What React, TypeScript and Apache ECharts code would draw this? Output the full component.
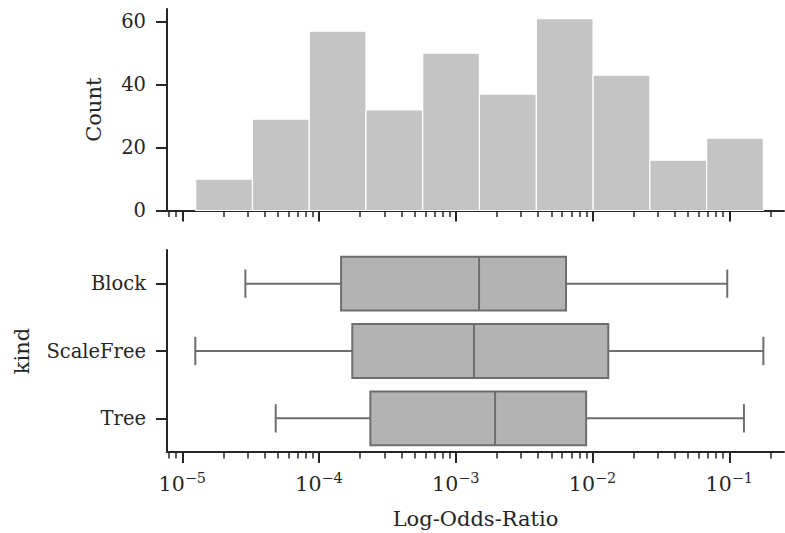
import React, { useEffect, useRef } from "react";
import * as echarts from "echarts";

// Histogram of log10(odds ratio): bin edges (log10 scale) and counts
const binEdges = [-4.902, -4.487, -4.072, -3.657, -3.242, -2.827, -2.411, -1.996, -1.581, -1.166, -0.751];
const binCounts = [10, 29, 57, 32, 50, 37, 61, 43, 16, 23];

// Box plot summary per graph kind (log10 values)
const kinds = ["Block", "ScaleFree", "Tree"];
const whiskerLow = [-4.539, -4.905, -4.317];
const quartile1 = [-3.839, -3.757, -3.625];
const medians = [-2.83, -2.867, -2.713];
const quartile3 = [-2.194, -1.885, -2.047];
const whiskerHigh = [-1.015, -0.751, -0.893];

// Axis ticks
const countTicks = [0, 20, 40, 60];
const majorExponents = [-5, -4, -3, -2, -1];

const X_MIN = -5.112;
const X_MAX = -0.6;

const minorTicks: number[] = [];
for (let e = -6; e <= -1; e++) {
  for (let m = 2; m <= 9; m++) {
    const v = e + Math.log10(m);
    if (v > X_MIN && v < X_MAX) minorTicks.push(v);
  }
}

const FONT = "DejaVu Serif";
const INK = "#262626";
const BOX_EDGE = "#6e6e6e";

function superscriptLabel(v: number) {
  return `{b|10}{s|−${Math.round(Math.abs(v))}}`;
}

export default function App() {
  const ref = useRef<HTMLDivElement>(null);

  useEffect(() => {
    if (!ref.current) return;
    const chart = echarts.init(ref.current, null, { renderer: "svg" });

    const majorAxis = (gridIndex: number, showLabels: boolean, name?: string) => ({
      type: "value",
      gridIndex,
      min: X_MIN,
      max: X_MAX,
      position: "bottom",
      name: name || "",
      nameLocation: "middle",
      nameGap: 56,
      nameTextStyle: { fontFamily: FONT, fontSize: 21, color: INK },
      axisLine: { show: true, onZero: false, lineStyle: { color: INK, width: 2 } },
      axisTick: {
        show: true,
        length: 11,
        customValues: majorExponents,
        lineStyle: { color: INK, width: 2 },
      },
      axisLabel: {
        show: showLabels,
        customValues: majorExponents,
        margin: 18,
        formatter: superscriptLabel,
        rich: {
          b: { fontFamily: FONT, fontSize: 20.5, color: INK, lineHeight: 24, verticalAlign: "bottom" },
          s: { fontFamily: FONT, fontSize: 14.5, color: INK, lineHeight: 14, verticalAlign: "top" },
        },
      },
      splitLine: { show: false },
    });

    const minorAxis = (gridIndex: number) => ({
      type: "value",
      gridIndex,
      min: X_MIN,
      max: X_MAX,
      position: "bottom",
      axisLine: { show: false, onZero: false },
      axisTick: {
        show: true,
        length: 6.5,
        customValues: minorTicks,
        lineStyle: { color: INK, width: 1.5 },
      },
      axisLabel: { show: false },
      splitLine: { show: false },
    });

    chart.setOption({
      animation: false,
      backgroundColor: "#ffffff",
      grid: [
        { left: 167, right: 1, top: 9, height: 201.5 },
        { left: 167, right: 1, top: 250, height: 202 },
      ],
      xAxis: [majorAxis(0, false), minorAxis(0), majorAxis(1, true, "Log-Odds-Ratio"), minorAxis(1)],
      yAxis: [
        {
          type: "value",
          gridIndex: 0,
          min: 0,
          max: 64.05,
          name: "Count",
          nameLocation: "middle",
          nameGap: 63,
          nameTextStyle: { fontFamily: FONT, fontSize: 21, color: INK },
          axisLine: { show: true, lineStyle: { color: INK, width: 2 } },
          axisTick: { show: true, length: 11, customValues: countTicks, lineStyle: { color: INK, width: 2 } },
          axisLabel: {
            customValues: countTicks,
            margin: 21,
            fontFamily: FONT,
            fontSize: 19.5,
            color: INK,
          },
          splitLine: { show: false },
        },
        {
          type: "category",
          gridIndex: 1,
          data: kinds,
          inverse: true,
          name: "kind",
          nameLocation: "middle",
          nameGap: 135,
          nameTextStyle: { fontFamily: FONT, fontSize: 21, color: INK },
          axisLine: { show: true, lineStyle: { color: INK, width: 2 } },
          axisTick: { show: true, length: 11, alignWithLabel: true, lineStyle: { color: INK, width: 2 } },
          axisLabel: { margin: 21, fontFamily: FONT, fontSize: 19.5, color: INK },
          splitLine: { show: false },
        },
      ],
      series: [
        {
          type: "custom",
          xAxisIndex: 0,
          yAxisIndex: 0,
          encode: { x: [0, 1], y: 2 },
          data: binCounts.map((c, i) => [binEdges[i], binEdges[i + 1], c]),
          renderItem: (_params: any, api: any) => {
            const p0 = api.coord([api.value(0), api.value(2)]);
            const p1 = api.coord([api.value(1), 0]);
            return {
              type: "rect",
              shape: { x: p0[0], y: p0[1], width: p1[0] - p0[0], height: p1[1] - p0[1] },
              style: { fill: "#c4c4c4", stroke: "#ffffff", lineWidth: 1.2 },
            };
          },
        },
        {
          type: "custom",
          xAxisIndex: 2,
          yAxisIndex: 1,
          encode: { x: [1, 2, 3, 4, 5], y: 0 },
          data: kinds.map((_k, i) => [i, whiskerLow[i], quartile1[i], medians[i], quartile3[i], whiskerHigh[i]]),
          renderItem: (_params: any, api: any) => {
            const idx = api.value(0);
            const band = api.size([0, 1])[1];
            const pLo = api.coord([api.value(1), idx]);
            const pQ1 = api.coord([api.value(2), idx]);
            const pMed = api.coord([api.value(3), idx]);
            const pQ3 = api.coord([api.value(4), idx]);
            const pHi = api.coord([api.value(5), idx]);
            const cy = pQ1[1];
            const half = band * 0.4;
            const cap = band * 0.21;
            const line = { stroke: BOX_EDGE, lineWidth: 2, fill: null };
            return {
              type: "group",
              children: [
                { type: "line", shape: { x1: pLo[0], y1: cy, x2: pQ1[0], y2: cy }, style: line },
                { type: "line", shape: { x1: pQ3[0], y1: cy, x2: pHi[0], y2: cy }, style: line },
                { type: "line", shape: { x1: pLo[0], y1: cy - cap, x2: pLo[0], y2: cy + cap }, style: line },
                { type: "line", shape: { x1: pHi[0], y1: cy - cap, x2: pHi[0], y2: cy + cap }, style: line },
                {
                  type: "rect",
                  shape: { x: pQ1[0], y: cy - half, width: pQ3[0] - pQ1[0], height: half * 2 },
                  style: { fill: "#b3b3b3", stroke: BOX_EDGE, lineWidth: 2 },
                },
                { type: "line", shape: { x1: pMed[0], y1: cy - half, x2: pMed[0], y2: cy + half }, style: line },
              ],
            };
          },
        },
      ],
    });

    return () => chart.dispose();
  }, []);

  return <div ref={ref} style={{ position: "absolute", left: 0, top: 0, width: 785, height: 533 }} />;
}
